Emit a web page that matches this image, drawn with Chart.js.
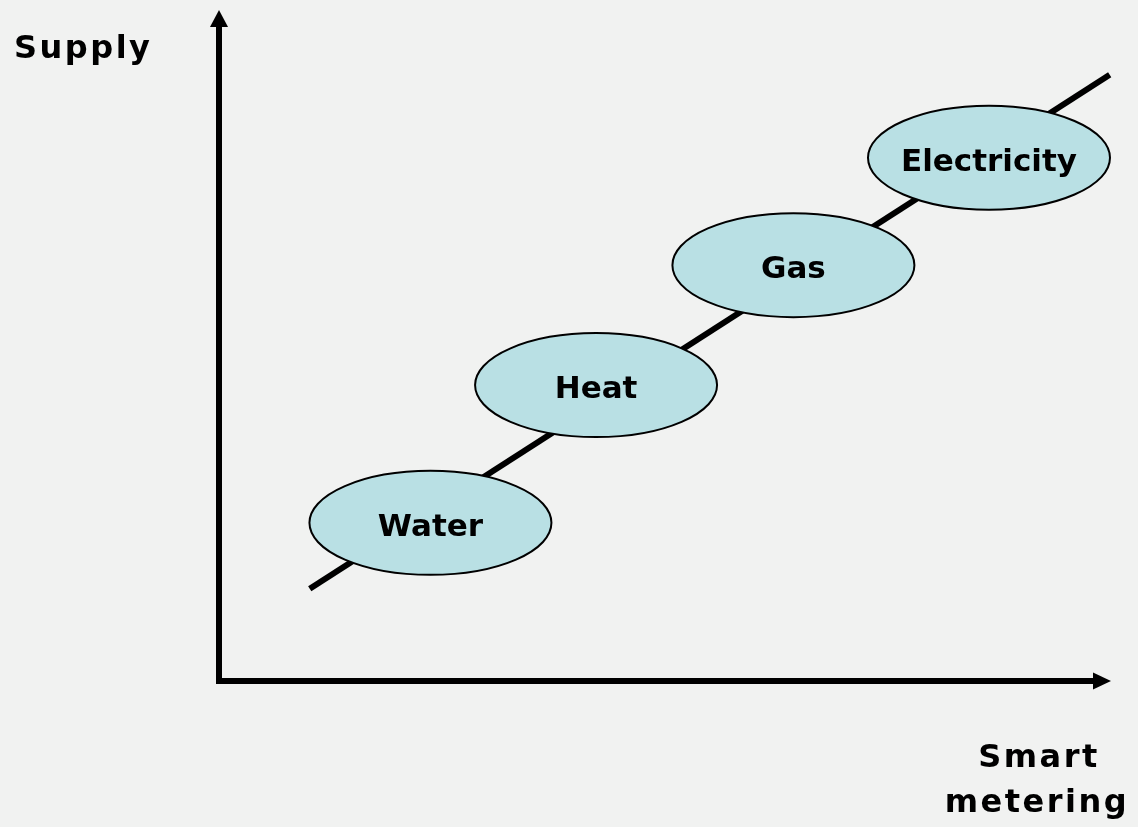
<!DOCTYPE html>
<html>
<head>
<meta charset="utf-8">
<script src="https://cdn.jsdelivr.net/npm/chart.js@4"></script>
<style>
  html, body { margin: 0; padding: 0; background: #f1f2f1; }
  #wrap { width: 1138px; height: 827px; position: relative; }
</style>
</head>
<body>
<div id="wrap"><canvas id="supplyChart"></canvas></div>
<script>
// trend line (start / end), in axis units 0..100
const lineX = [10.3, 101.1];
const lineY = [14.0, 92.0];

// the four utilities
const utilities = ['Water', 'Heat', 'Gas', 'Electricity'];
const utilX = [24.0, 42.8, 65.2, 87.4];
const utilY = [24.0, 44.9, 63.1, 79.4];

const yTitle = 'Supply';
const xTitle = ['Smart', 'metering'];

const ellipsePlugin = {
    id: 'ellipses',
    afterDatasetsDraw(chart) {
        const ctx = chart.ctx;
        const meta = chart.getDatasetMeta(1);
        ctx.save();
        meta.data.forEach((pt, i) => {
            ctx.beginPath();
            ctx.ellipse(pt.x, pt.y, 121, 52, 0, 0, Math.PI * 2);
            ctx.fillStyle = '#b9e0e4';
            ctx.fill();
            ctx.lineWidth = 2;
            ctx.strokeStyle = '#000';
            ctx.stroke();
            ctx.fillStyle = '#000';
            ctx.font = 'bold 31px "DejaVu Sans"';
            ctx.textAlign = 'center';
            ctx.textBaseline = 'alphabetic';
            ctx.fillText(utilities[i], pt.x, pt.y + 13);
        });
        ctx.restore();
    }
};

const axesPlugin = {
    id: 'arrows',
    afterDraw(chart) {
        const ctx = chart.ctx;
        const a = chart.chartArea;
        ctx.save();
        ctx.fillStyle = '#000';
        // up arrow
        ctx.beginPath();
        ctx.moveTo(a.left, 10);
        ctx.lineTo(a.left + 9, 27);
        ctx.lineTo(a.left - 9, 27);
        ctx.closePath();
        ctx.fill();
        // right arrow
        ctx.beginPath();
        ctx.moveTo(1111, a.bottom);
        ctx.lineTo(1093, a.bottom - 8.5);
        ctx.lineTo(1093, a.bottom + 8.5);
        ctx.closePath();
        ctx.fill();

        ctx.font = 'bold 32px "DejaVu Sans"';
        ctx.letterSpacing = '2.5px';
        ctx.textBaseline = 'alphabetic';
        ctx.textAlign = 'left';
        ctx.fillText(yTitle, 14, 58);
        ctx.textAlign = 'center';
        ctx.fillText(xTitle[0], 1039, 767);
        ctx.fillText(xTitle[1], 1037, 812);
        ctx.restore();
    }
};

new Chart(document.getElementById('supplyChart'), {
    type: 'scatter',
    data: {
        datasets: [{
            data: lineX.map((x, i) => ({x: x, y: lineY[i]})),
            showLine: true,
            borderColor: '#000',
            borderWidth: 6,
            pointRadius: 0,
            clip: false
        }, {
            data: utilX.map((x, i) => ({x: x, y: utilY[i]})),
            pointRadius: 0,
            showLine: false
        }]
    },
    options: {
        responsive: true,
        maintainAspectRatio: false,
        animation: false,
        layout: {
            padding: {left: 219, top: 22, right: 38, bottom: 146}
        },
        plugins: {
            legend: {display: false},
            tooltip: {enabled: false}
        },
        scales: {
            x: {
                min: 0, max: 100,
                ticks: {display: false},
                grid: {display: false, drawTicks: false},
                border: {display: true, color: '#000', width: 6}
            },
            y: {
                min: 0, max: 100,
                ticks: {display: false},
                grid: {display: false, drawTicks: false},
                border: {display: true, color: '#000', width: 6}
            }
        }
    },
    plugins: [ellipsePlugin, axesPlugin]
});
</script>
</body>
</html>
